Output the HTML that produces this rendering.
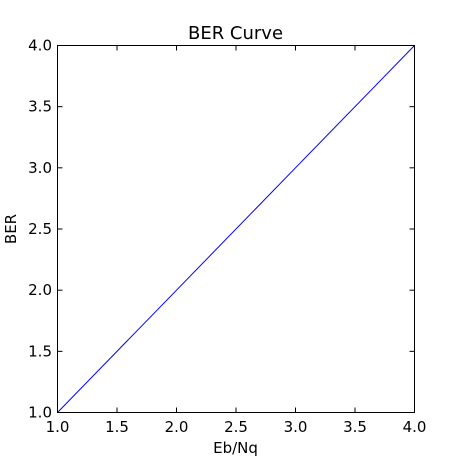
<!DOCTYPE html>
<html><head><meta charset="utf-8"><style>
html,body{margin:0;padding:0;background:#fff;}
svg text{font-family:"DejaVu Sans","Liberation Sans",sans-serif;fill:#000;}
</style></head><body>
<svg id="chart" width="459" height="459" viewBox="0 0 459 459" xmlns="http://www.w3.org/2000/svg">
<rect x="0" y="0" width="459" height="459" fill="#fff"/>
<text x="235.5" y="39" font-size="18" text-anchor="middle">BER Curve</text>
<g id="ticks"></g>
<polyline id="series" fill="none" stroke="#0000ff" stroke-width="1"/>
<rect x="57.5" y="45.5" width="357" height="367" fill="none" stroke="#000" stroke-width="1"/>
<text x="235.5" y="453" font-size="15" text-anchor="middle">Eb/Nq</text>
<text x="0" y="0" font-size="15" text-anchor="middle" transform="translate(16,229) rotate(-90)">BER</text>
</svg>
<script>
const xValues = [1, 2, 3, 4];
const yValues = [1, 2, 3, 4];
const xTicks = [1.0, 1.5, 2.0, 2.5, 3.0, 3.5, 4.0];
const yTicks = [1.0, 1.5, 2.0, 2.5, 3.0, 3.5, 4.0];
const X0=57.5, X1=414.5, Y0=412.5, Y1=45.5, xmin=1, xmax=4, ymin=1, ymax=4;
function sx(v){return X0+(v-xmin)/(xmax-xmin)*(X1-X0);}
function sy(v){return Y0-(v-ymin)/(ymax-ymin)*(Y0-Y1);}
const ns="http://www.w3.org/2000/svg";
const g=document.getElementById('ticks');
function line(x1,y1,x2,y2){const l=document.createElementNS(ns,'line');l.setAttribute('x1',x1);l.setAttribute('y1',y1);l.setAttribute('x2',x2);l.setAttribute('y2',y2);l.setAttribute('stroke','#000');


g.appendChild(l);}
function txt(x,y,s,anchor,name){const t=document.createElementNS(ns,'text');t.setAttribute('x',x);t.setAttribute('y',y);t.setAttribute('font-size','15');t.setAttribute('text-anchor',anchor);t.textContent=s;


g.appendChild(t);}
xTicks.forEach(v=>{const x=sx(v);line(x,Y0,x,Y0-5);line(x,Y1,x,Y1+5);txt(x,432,v.toFixed(1),'middle','x-tick-label');});
yTicks.forEach(v=>{const y=sy(v);line(X0,y,X0+5,y);line(X1,y,X1-5,y);txt(52,y+5,v.toFixed(1),'end','y-tick-label');});
document.getElementById('series').setAttribute('points',xValues.map((x,i)=>sx(x)+','+sy(yValues[i])).join(' '));
</script>
</body></html>
